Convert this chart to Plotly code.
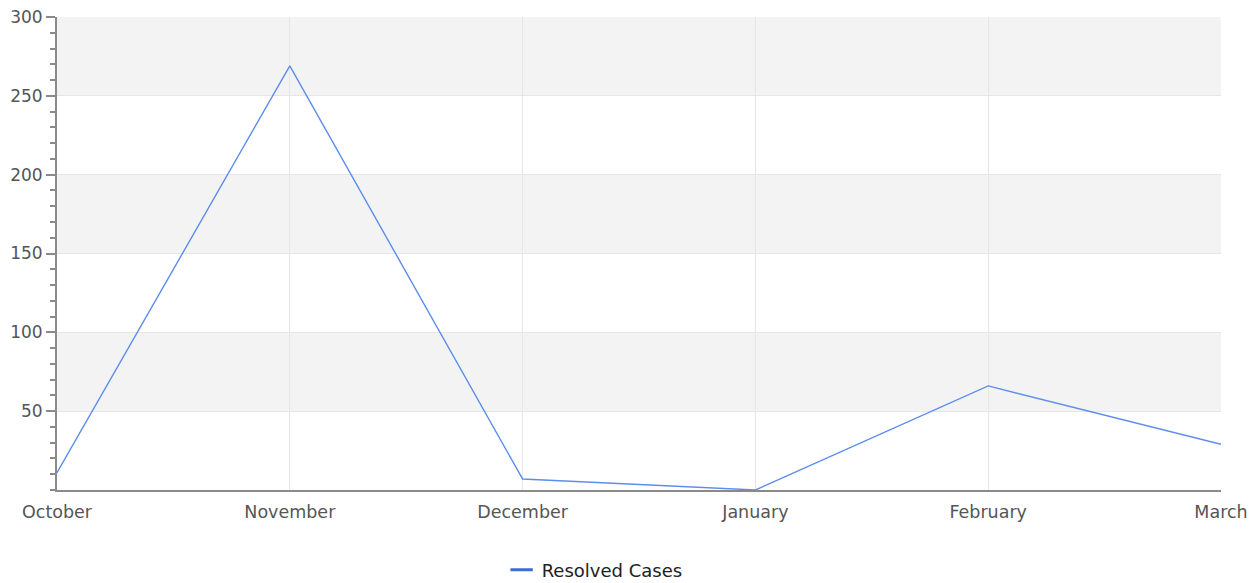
import plotly.graph_objects as go

months = ["October", "November", "December", "January", "February", "March"]
resolved_cases = [11, 269, 7, 0, 66, 29]

y_ticks = [50, 100, 150, 200, 250, 300]
band_ranges = [(50, 100), (150, 200), (250, 300)]

font_family = "DejaVu Sans, Verdana, sans-serif"
line_color = "#5b8def"

fig = go.Figure()
fig.add_trace(go.Scatter(
    x=months,
    y=resolved_cases,
    mode="lines",
    name="Resolved Cases",
    line=dict(color=line_color, width=1.4),
    showlegend=False,
))
# legend entry with a short, bold swatch
fig.add_trace(go.Scatter(
    x=[None], y=[None],
    mode="markers",
    name="Resolved Cases",
    marker=dict(symbol="line-ew-open", size=17, color="#3a6ed6",
                line=dict(width=3, color="#3a6ed6")),
    showlegend=True,
))

# alternating horizontal bands behind the plot
for lo, hi in band_ranges:
    fig.add_shape(type="rect", xref="paper", yref="y", x0=0, x1=1, y0=lo, y1=hi,
                  fillcolor="#f3f3f3", line=dict(width=0), layer="below")

fig.update_layout(
    width=1260, height=583,
    margin=dict(l=57, r=39, t=17, b=93, autoexpand=False),
    paper_bgcolor="white",
    plot_bgcolor="white",
    font=dict(family=font_family, size=17, color="#555555"),
    showlegend=True,
    legend=dict(orientation="h", x=0.382, xref="paper", y=0.0223, yref="container",
                xanchor="left", yanchor="middle",
                font=dict(size=18, color="#222222"), itemwidth=30),
    xaxis=dict(
        range=[0, len(months) - 1],
        showgrid=True, gridcolor="#e6e6e6", gridwidth=1,
        showline=True, linecolor="#8a8a8a", linewidth=2,
        ticks="", zeroline=False, automargin=False,
        ticklabelstandoff=5,
        tickfont=dict(size=17.5, color="#555555"),
    ),
    yaxis=dict(
        range=[0, 300],
        tickvals=y_ticks,
        showgrid=True, gridcolor="#e6e6e6", gridwidth=1,
        showline=True, linecolor="#8a8a8a", linewidth=2,
        ticks="outside", ticklen=9, tickcolor="#8a8a8a", tickwidth=1.5,
        minor=dict(dtick=10, ticks="outside", ticklen=5, tickcolor="#8a8a8a",
                   tickwidth=1.5, showgrid=False),
        zeroline=False, automargin=False,
        tickfont=dict(size=17, color="#555555"),
    ),
)

fig.write_html("out.html")
